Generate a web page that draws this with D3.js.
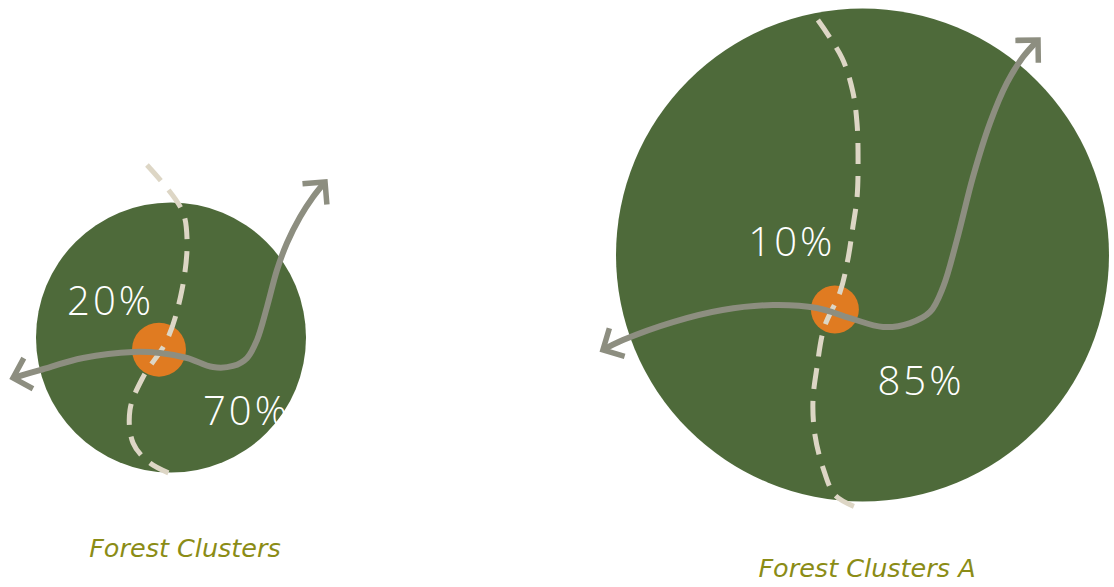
<!DOCTYPE html>
<html>
<head>
<meta charset="utf-8">
<script src="https://cdn.jsdelivr.net/npm/d3@7"></script>
<style>
  html, body { margin: 0; padding: 0; background: #fff; }
  svg { display: block; }
</style>
</head>
<body>
<div id="chart"></div>
<script>
// data
const clusterNames = ["Forest Clusters", "Forest Clusters A"];
const upperShare = [20, 10];
const lowerShare = [70, 85];

const width = 1114, height = 587;
const green = "#4e6a3a", orange = "#e07b21", sand = "#ddd6c5", grey = "#8d8e80", olive = "#8b8c16";

// layout for each cluster: circle box + shapes in units of radius (centre = 0,0)
const layout = [
  {
    cx: 171, cy: 337.5, r: 135,
    dot: [-0.089, 0.090], dotR: 27,
    upperLabel: [-0.77, -0.167], lowerLabel: [0.237, 0.648],
    caption: [185, 557],
    dashed: [[-0.178, -1.278], [0.081, -0.944], [0.119, -0.722], [0.081, -0.352], [-0.030, 0.019],
             [-0.207, 0.293], [-0.304, 0.537], [-0.281, 0.781], [-0.156, 0.930], [0.037, 1.026]],
    flow: [[-1.170, 0.300], [-0.970, 0.241], [-0.652, 0.152], [-0.281, 0.107], [-0.081, 0.115],
           [0.119, 0.152], [0.311, 0.219], [0.459, 0.211], [0.563, 0.152], [0.637, 0.019],
           [0.711, -0.226], [0.785, -0.500], [0.859, -0.700], [0.956, -0.893], [1.052, -1.041], [1.141, -1.152]]
  },
  {
    cx: 862.5, cy: 255, r: 246.5,
    dot: [-0.112, 0.221], dotR: 24,
    upperLabel: [-0.463, 0.004], lowerLabel: [0.061, 0.568],
    caption: [867, 577],
    dashed: [[-0.181, -0.953], [-0.083, -0.799], [-0.039, -0.661], [-0.022, -0.531], [-0.018, -0.385],
             [-0.022, -0.235], [-0.039, -0.114], [-0.059, 0.016], [-0.091, 0.150], [-0.156, 0.296],
             [-0.185, 0.458], [-0.201, 0.592], [-0.193, 0.730], [-0.160, 0.864], [-0.112, 0.974], [-0.030, 1.022]],
    flow: [[-1.053, 0.385], [-0.972, 0.345], [-0.769, 0.272], [-0.568, 0.223], [-0.365, 0.203],
           [-0.185, 0.215], [-0.051, 0.256], [0.083, 0.292], [0.193, 0.276], [0.274, 0.231],
           [0.327, 0.130], [0.383, -0.061], [0.448, -0.316], [0.517, -0.535], [0.586, -0.698],
           [0.651, -0.803], [0.712, -0.872]]
  }
];

const svg = d3.select("#chart").append("svg")
  .attr("width", width)
  .attr("height", height);

svg.append("defs").append("marker")
  .attr("id", "arrow")
  .attr("markerUnits", "userSpaceOnUse")
  .attr("viewBox", "-20 -20 24 40")
  .attr("markerWidth", 24)
  .attr("markerHeight", 40)
  .attr("refX", 0)
  .attr("refY", 0)
  .attr("orient", "auto-start-reverse")
  .append("path")
  .attr("d", "M-16,-16L0,0L-16,16")
  .attr("fill", "none")
  .attr("stroke", grey)
  .attr("stroke-width", 5.5);

clusterNames.forEach((name, i) => {
  const L = layout[i];
  const x = d3.scaleLinear().domain([-1, 1]).range([L.cx - L.r, L.cx + L.r]);
  const y = d3.scaleLinear().domain([-1, 1]).range([L.cy - L.r, L.cy + L.r]);
  const line = d3.line().x(d => x(d[0])).y(d => y(d[1])).curve(d3.curveCatmullRom.alpha(0.5));

  const g = svg.append("g");

  g.append("circle")
    .attr("cx", x(0)).attr("cy", y(0))
    .attr("r", x(1) - x(0))
    .attr("fill", green);

  g.append("circle")
    .attr("cx", x(L.dot[0])).attr("cy", y(L.dot[1]))
    .attr("r", L.dotR)
    .attr("fill", orange);

  g.append("path")
    .attr("d", line(L.dashed))
    .attr("fill", "none")
    .attr("stroke", sand)
    .attr("stroke-width", 5)
    .attr("stroke-dasharray", "21 12");

  g.append("path")
    .attr("d", line(L.flow))
    .attr("fill", "none")
    .attr("stroke", grey)
    .attr("stroke-width", 6)
    .attr("marker-start", "url(#arrow)")
    .attr("marker-end", "url(#arrow)");

  const pct = g.append("g")
    .attr("fill", "#fff")
    .attr("font-family", "'Open Sans', sans-serif")
    .attr("font-weight", 300)
    .attr("letter-spacing", 3)
    .attr("font-size", 40);

  pct.append("text")
    .attr("x", x(L.upperLabel[0])).attr("y", y(L.upperLabel[1]))
    .text(upperShare[i] + "%");
  pct.append("text")
    .attr("x", x(L.lowerLabel[0])).attr("y", y(L.lowerLabel[1]))
    .text(lowerShare[i] + "%");

  g.append("text")
    .attr("x", L.caption[0]).attr("y", L.caption[1])
    .attr("text-anchor", "middle")
    .attr("font-family", "'DejaVu Sans', Verdana, sans-serif")
    .attr("font-style", "italic")
    .attr("font-size", 25.5)
    .attr("fill", olive)
    .text(name);
});
</script>
</body>
</html>
